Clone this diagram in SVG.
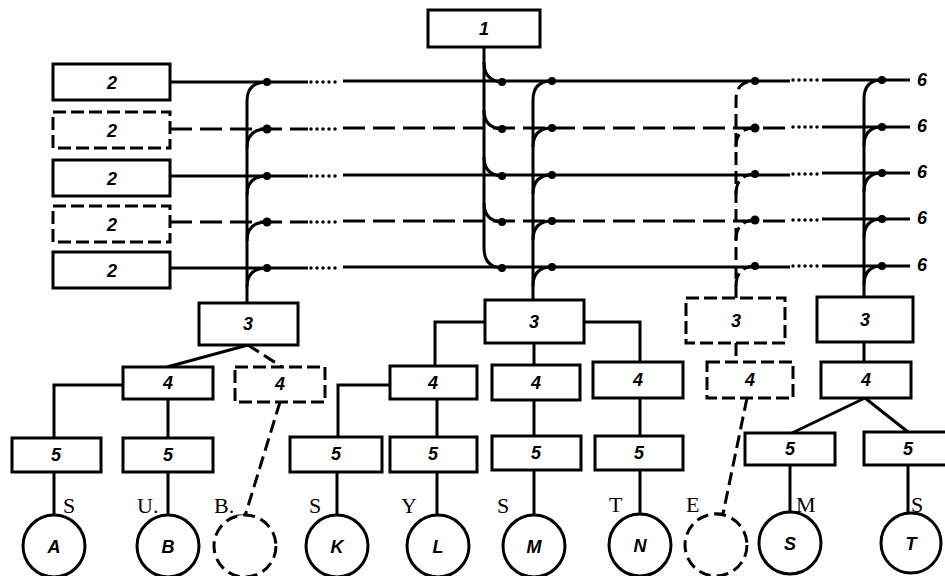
<svg xmlns="http://www.w3.org/2000/svg" width="945" height="576" viewBox="0 0 945 576">
<style>
.b{fill:#fff;stroke:#000;stroke-width:3}
.bd{fill:#fff;stroke:#000;stroke-width:3;stroke-dasharray:13 5}
.l{fill:none;stroke:#000;stroke-width:3}
.ld{fill:none;stroke:#000;stroke-width:3;stroke-dasharray:13 6}
.lr{fill:none;stroke:#000;stroke-width:3;stroke-dasharray:22 8}
.lt{fill:none;stroke:#000;stroke-width:3.5;stroke-dasharray:0 6;stroke-linecap:round}
.n{font-family:"Liberation Sans",Arial,sans-serif;font-weight:bold;font-style:italic;font-size:18px;text-anchor:middle}
.s{font-family:"Liberation Serif","Times New Roman",serif;font-size:22px}
.c{fill:#fff;stroke:#000;stroke-width:3}
.cd{fill:#fff;stroke:#000;stroke-width:3;stroke-dasharray:12 6}
</style>
<rect width="945" height="576" fill="#fff"/>
<g id="connectors">
<path class="l" d="M170,82H308M343,81H790M822,80H910"/>
<path class="lt" d="M311,82H341M793,80H820"/>
<path class="lr" d="M170,129H308M343,128H790"/>
<path class="lt" d="M311,129H341M793,127H820"/>
<path class="l" d="M822,127H910"/>
<path class="l" d="M170,176H308M343,175H790M822,173H910"/>
<path class="lt" d="M311,176H341M793,174H820"/>
<path class="lr" d="M170,222H308M343,221H790"/>
<path class="lt" d="M311,222H341M793,220H820"/>
<path class="l" d="M822,219H910"/>
<path class="l" d="M170,268H308M343,267H790M822,266H910"/>
<path class="lt" d="M311,268H341M793,266H820"/>
<path class="l" d="M484,47V248Q484,267 502,268"/>
<path class="l" d="M484,62Q484,81 502,82M484,110Q484,128 502,129M484,157Q484,175 502,176M484,203Q484,221 502,222"/>
<path class="l" d="M247,303V101Q247,82 267,82"/>
<path class="l" d="M247,148Q247,129 267,129M247,195Q247,176 267,176M247,241Q247,222 267,222M247,287Q247,268 267,268"/>
<path class="l" d="M533,300V100Q533,81 552,81"/>
<path class="l" d="M533,147Q533,128 552,128M533,194Q533,175 552,175M533,240Q533,221 552,221M533,286Q533,267 552,267"/>
<path class="ld" d="M736,298V100Q736,81 755,81"/>
<path class="ld" d="M736,147Q736,128 755,128M736,194Q736,175 755,174M736,240Q736,221 755,220M736,286Q736,267 755,266"/>
<path class="l" d="M864,297V99Q864,80 882,80"/>
<path class="l" d="M864,146Q864,127 882,127M864,192Q864,173 882,173M864,238Q864,219 882,219M864,285Q864,266 882,266"/>
<g fill="#000">
<circle cx="502" cy="82" r="4"/><circle cx="502" cy="129" r="4"/><circle cx="502" cy="176" r="4"/><circle cx="502" cy="222" r="4"/><circle cx="502" cy="268" r="4"/>
<circle cx="267" cy="82" r="4"/><circle cx="267" cy="129" r="4.5"/><circle cx="267" cy="176" r="4"/><circle cx="267" cy="222" r="4.5"/><circle cx="267" cy="268" r="4"/>
<circle cx="552" cy="81" r="4"/><circle cx="552" cy="128" r="4"/><circle cx="552" cy="175" r="4"/><circle cx="552" cy="221" r="4"/><circle cx="552" cy="267" r="4"/>
<circle cx="755" cy="81" r="4"/><circle cx="755" cy="128" r="4.5"/><circle cx="755" cy="174" r="4"/><circle cx="755" cy="220" r="4.5"/><circle cx="755" cy="266" r="4"/>
<circle cx="882" cy="80" r="4"/><circle cx="882" cy="127" r="4"/><circle cx="882" cy="173" r="4"/><circle cx="882" cy="219" r="4"/><circle cx="882" cy="266" r="4"/>
</g>
<path class="l" d="M248,345L167,367"/>
<path class="ld" d="M248,345L282,367"/>
<path class="l" d="M123,385H54V438M168,399V438M54,472V515M168,472V515"/>
<path class="ld" d="M280,402L245,516H237"/>
<path class="l" d="M485,322H435V366M584,322H640V362M534,343V365"/>
<path class="l" d="M390,385H338V437M437,399V437M337,472V515M437,472V515"/>
<path class="l" d="M534,400V436M534,470V515M640,398V436M640,470V514"/>
<path class="ld" d="M736,343V362M747,398L723,514H712"/>
<path class="l" d="M864,342V362M865,398L792,433M865,398L908,432M790,465V512M908,465V513"/>
</g>
<g id="n1"><rect class="b" x="428" y="10" width="112" height="37"/><text class="n" x="484" y="35">1</text></g>
<g id="n2a"><rect class="b" x="53" y="64" width="117" height="36"/><text class="n" x="112" y="89">2</text></g>
<g id="n2b"><rect class="bd" x="53" y="112" width="117" height="36"/><text class="n" x="112" y="137">2</text></g>
<g id="n2c"><rect class="b" x="53" y="160" width="117" height="36"/><text class="n" x="112" y="185">2</text></g>
<g id="n2d"><rect class="bd" x="53" y="206" width="117" height="36"/><text class="n" x="112" y="231">2</text></g>
<g id="n2e"><rect class="b" x="53" y="252" width="117" height="36"/><text class="n" x="112" y="277">2</text></g>
<g id="n6" class="n"><text x="922" y="86">6</text><text x="922" y="132">6</text><text x="922" y="178">6</text><text x="922" y="224">6</text><text x="922" y="271">6</text></g>
<g id="n3a"><rect class="b" x="199" y="303" width="99" height="42"/><text class="n" x="248" y="330">3</text></g>
<g id="n3b"><rect class="b" x="485" y="300" width="99" height="43"/><text class="n" x="534" y="328">3</text></g>
<g id="n3c"><rect class="bd" x="686" y="298" width="99" height="45"/><text class="n" x="736" y="327">3</text></g>
<g id="n3d"><rect class="b" x="817" y="297" width="96" height="45"/><text class="n" x="865" y="326">3</text></g>
<g id="n4a"><rect class="b" x="123" y="367" width="90" height="32"/><text class="n" x="168" y="389">4</text></g>
<g id="n4b"><rect class="bd" x="235" y="367" width="90" height="35"/><text class="n" x="280" y="390">4</text></g>
<g id="n4c"><rect class="b" x="390" y="366" width="87" height="33"/><text class="n" x="433" y="389">4</text></g>
<g id="n4d"><rect class="b" x="492" y="365" width="88" height="35"/><text class="n" x="536" y="389">4</text></g>
<g id="n4e"><rect class="b" x="593" y="362" width="90" height="36"/><text class="n" x="638" y="386">4</text></g>
<g id="n4f"><rect class="bd" x="707" y="362" width="86" height="36"/><text class="n" x="750" y="386">4</text></g>
<g id="n4g"><rect class="b" x="821" y="362" width="90" height="36"/><text class="n" x="866" y="386">4</text></g>
<g id="n5a"><rect class="b" x="12" y="438" width="89" height="34"/><text class="n" x="56" y="461">5</text></g>
<g id="n5b"><rect class="b" x="123" y="438" width="90" height="34"/><text class="n" x="168" y="461">5</text></g>
<g id="n5c"><rect class="b" x="290" y="437" width="92" height="35"/><text class="n" x="336" y="460">5</text></g>
<g id="n5d"><rect class="b" x="390" y="437" width="87" height="35"/><text class="n" x="433" y="460">5</text></g>
<g id="n5e"><rect class="b" x="492" y="436" width="89" height="34"/><text class="n" x="536" y="459">5</text></g>
<g id="n5f"><rect class="b" x="595" y="436" width="88" height="34"/><text class="n" x="639" y="459">5</text></g>
<g id="n5g"><rect class="b" x="745" y="433" width="90" height="32"/><text class="n" x="790" y="455">5</text></g>
<g id="n5h"><rect class="b" x="864" y="432" width="90" height="33"/><text class="n" x="908" y="455">5</text></g>
<g id="cA"><circle class="c" cx="54" cy="546" r="31"/><text class="n" x="54" y="553">A</text></g>
<g id="cB"><circle class="c" cx="168" cy="546" r="31"/><text class="n" x="168" y="553">B</text></g>
<g id="cX1"><circle class="cd" cx="245" cy="546" r="31"/></g>
<g id="cK"><circle class="c" cx="337" cy="546" r="31"/><text class="n" x="337" y="553">K</text></g>
<g id="cL"><circle class="c" cx="438" cy="546" r="31"/><text class="n" x="438" y="553">L</text></g>
<g id="cM"><circle class="c" cx="534" cy="546" r="31"/><text class="n" x="534" y="553">M</text></g>
<g id="cN"><circle class="c" cx="640" cy="545" r="31"/><text class="n" x="640" y="552">N</text></g>
<g id="cX2"><circle class="cd" cx="716" cy="545" r="31"/></g>
<g id="cS"><circle class="c" cx="790" cy="543" r="31"/><text class="n" x="790" y="550">S</text></g>
<g id="cT"><circle class="c" cx="911" cy="543" r="30"/><text class="n" x="911" y="550">T</text></g>
<g id="labels" class="s">
<text x="63" y="513">S</text><text x="137" y="513">U.</text><text x="214" y="513">B.</text>
<text x="309" y="513">S</text><text x="401" y="513">Y</text><text x="497" y="513">S</text>
<text x="609" y="512">T</text><text x="686" y="512">E</text><text x="796" y="512">M</text><text x="911" y="512">S</text>
</g>
</svg>
